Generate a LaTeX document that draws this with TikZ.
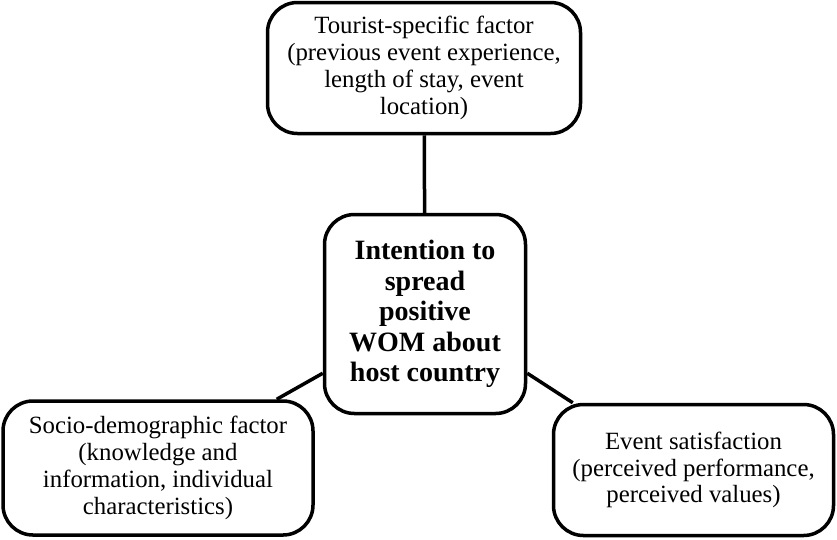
\documentclass[tikz,border=0pt]{standalone}
\usepackage{fontspec}
\setmainfont{Liberation Serif}
\usetikzlibrary{positioning,calc}

\begin{document}
\begin{tikzpicture}[x=1pt, y=-1pt]
	\useasboundingbox (0, 0) rectangle (837, 539);
	\begin{scope}
		\tikzstyle{every node}=[align=center, inner sep=1pt]
		\tikzstyle{factor}=[draw, line width=3.5pt, rounded corners=30pt, font=\fontsize{24.8}{26.8}\selectfont]
		\node[factor, minimum width=313pt, minimum height=131pt] (tourist) at (424, 68) {Tourist-specific factor\\(previous event experience,\\length of stay, event\\location)};
		\node[factor, minimum width=201pt, minimum height=199pt, font=\fontsize{28}{30.5}\selectfont\bfseries] (wom) at (425, 314) {Intention to\\spread\\positive\\WOM about\\host country};
		\node[factor, minimum width=310pt, minimum height=134pt] (socio) at (158, 468) {Socio-demographic factor\\(knowledge and\\information, individual\\characteristics)};
		\node[factor, minimum width=280pt, minimum height=131pt] (event) at (693.5, 470) {Event satisfaction\\(perceived performance,\\perceived values)};

		\draw [line width=3.5pt] (tourist) to (wom);
		\draw [line width=3.5pt] ([yshift=42pt]wom.south west) to ([xshift=-38pt]socio.north east);
		\draw [line width=3.5pt] ([yshift=42pt]wom.south east) to ([xshift=21pt]event.north west);
	\end{scope}
\end{tikzpicture}
\end{document}
